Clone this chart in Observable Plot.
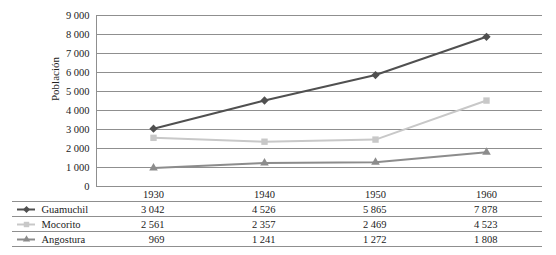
<!DOCTYPE html>
<html><head><meta charset="utf-8">
<script src="https://cdn.jsdelivr.net/npm/d3@7"></script>
<script src="https://cdn.jsdelivr.net/npm/@observablehq/plot@0.6"></script>
<style>body{margin:0;background:#fff} svg, svg text{font-family:"Liberation Serif",serif !important;}</style>
</head><body><div id="chart"></div>
<script>
const years = ["1930", "1940", "1950", "1960"];
const seriesNames = ["Guamuchil", "Mocorito", "Angostura"];
const guamuchil = [3042, 4526, 5865, 7878];
const mocorito = [2561, 2357, 2469, 4523];
const angostura = [969, 1241, 1272, 1808];
const yTicks = [0, 1000, 2000, 3000, 4000, 5000, 6000, 7000, 8000, 9000];
const yLabel = "Población";

const seriesValues = [guamuchil, mocorito, angostura];
const colors = ["#505050", "#c8c8c8", "#8c8c8c"];
const diamond = {draw(ctx, size) {const s = Math.sqrt(size / 2); ctx.moveTo(0, -s); ctx.lineTo(s, 0); ctx.lineTo(0, s); ctx.lineTo(-s, 0); ctx.closePath();}};
const symbols = [diamond, "square", "triangle"];
const radii = [3.3, 3.6, 3.2];
const fmt = v => d3.format(",")(v).replace(/,/g, " ");

const series = seriesNames.map((name, i) => years.map((year, j) => ({series: name, year, value: seriesValues[i][j]})));
const gridColor = "#8f8f8f";
const fs = 10.5;

const marks = [
  Plot.ruleY(yTicks, {stroke: gridColor, strokeWidth: 1}),
  Plot.frame({anchor: "left", stroke: gridColor}),
  Plot.axisY(yTicks, {tickSize: 0, tickPadding: 7, tickFormat: fmt, label: null, fontSize: fs}),
  Plot.axisX({tickSize: 0, tickPadding: 4, label: null, fontSize: fs}),
  Plot.text([yLabel], {frameAnchor: "left", dx: -41, rotate: -90, text: d => d, fontSize: 11})
];

series.forEach((data, i) => {
  marks.push(Plot.line(data, {x: "year", y: "value", stroke: colors[i], strokeWidth: 2}));
  marks.push(Plot.dot(data, {x: "year", y: "value", symbol: symbols[i], fill: colors[i], r: radii[i], stroke: "none"}));
});

// table below the chart
const rowStep = 15;
for (let k = 0; k < 4; k++) {
  marks.push(Plot.ruleY([0], {dy: 15 + rowStep * k, insetLeft: -84, stroke: gridColor, strokeWidth: 1}));
}
series.forEach((data, i) => {
  const dy = 23 + rowStep * i;
  marks.push(Plot.ruleY([0], {dy, insetLeft: -79, insetRight: 507, stroke: colors[i], strokeWidth: 2}));
  marks.push(Plot.dot([seriesNames[i]], {y: d => 0, frameAnchor: "left", dx: -70, dy, symbol: symbols[i], fill: colors[i], r: radii[i] * 0.85, stroke: "none"}));
  marks.push(Plot.text([seriesNames[i]], {y: d => 0, frameAnchor: "left", dx: -55, dy, text: d => d, textAnchor: "start", fontSize: fs}));
  marks.push(Plot.text(data, {x: "year", y: d => 0, dx: 11, dy, text: d => fmt(d.value), textAnchor: "end", fontSize: fs}));
});

const chart = Plot.plot({
  width: 556,
  height: 255,
  marginTop: 15,
  marginBottom: 69,
  marginLeft: 96,
  marginRight: 14,
  style: "font-size: 10.5px; color: #222; background: #fff;",
  x: {type: "point", domain: years, padding: 0.5},
  y: {domain: [0, 9000]},
  marks
});
document.getElementById("chart").appendChild(chart);
</script>
</body></html>
